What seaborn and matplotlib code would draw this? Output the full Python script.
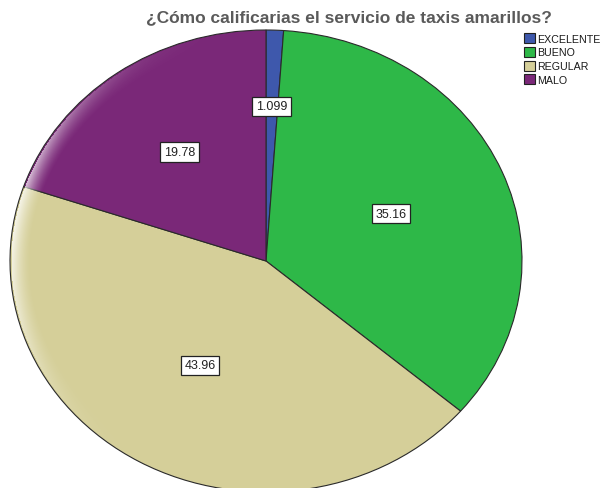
import numpy as np
import matplotlib
matplotlib.use("Agg")
import matplotlib.pyplot as plt
import seaborn as sns

categories = ["EXCELENTE", "BUENO", "REGULAR", "MALO"]
percentages = [1.099, 35.16, 43.96, 19.78]
value_labels = ["1.099", "35.16", "43.96", "19.78"]
title = "¿Cómo calificarias el servicio de taxis amarillos?"

sns.set_theme(style="white")
plt.rcParams["font.family"] = ["Liberation Sans", "DejaVu Sans"]
colors = sns.color_palette(["#3E58AC", "#2EB848", "#D5CF99", "#7A2878"])

W, H = 603, 489
fig = plt.figure(figsize=(W / 100, H / 100), dpi=100)
ax = fig.add_axes([0, 0, 1, 1])

# ellipse geometry (pixels)
cx, cy, rx, ry = 266, 262, 256, 231

wedges, _ = ax.pie(percentages, colors=colors, startangle=90, counterclock=False,
                   radius=1.0, wedgeprops=dict(edgecolor="#2a2a2a", linewidth=0.8))
ax.set_aspect("auto")
x0, x1 = -cx / rx, (W - cx) / rx
y0, y1 = (cy - H) / ry, cy / ry
ax.set_xlim(x0, x1)
ax.set_ylim(y0, y1)
ax.axis("off")

# soft light on the left rim
gx, gy = np.meshgrid(np.linspace(x0, x1, W), np.linspace(y1, y0, H))
rho = np.hypot(gx, gy)
phi = np.arctan2(gy, gx)
fade = np.clip(1 - (1 - rho) * rx / 20, 0, 1) ** 1.5
weight = np.clip(-np.cos(phi + 0.15), 0, 1) ** 5
alpha = 0.85 * fade * weight
alpha[rho > 0.996] = 0
rgba = np.ones((H, W, 4))
rgba[..., 3] = alpha
ax.imshow(rgba, extent=(x0, x1, y0, y1), aspect="auto", zorder=3, interpolation="bilinear")

label_r = [0.67, 0.53, 0.52, 0.58]
for w, txt, r in zip(wedges, value_labels, label_r):
    mid = np.deg2rad((w.theta1 + w.theta2) / 2)
    ax.text(r * np.cos(mid), r * np.sin(mid), txt, ha="center", va="center",
            fontsize=9, color="#222222", zorder=5,
            bbox=dict(boxstyle="square,pad=0.3", fc="white", ec="#222222", lw=0.9))

fig.text(349 / W, 1 - 18 / H, title, ha="center", va="center", fontsize=12.5,
         fontweight="bold", color="#5a5a5a")

leg = fig.legend(wedges, categories, loc="upper left", bbox_to_anchor=(524 / W, 1 - 34 / H),
                 frameon=False, fontsize=7.7, handlelength=1.05, handleheight=1.05,
                 labelspacing=0.3, handletextpad=0.15, borderaxespad=0, borderpad=0)
for t in leg.get_texts():
    t.set_color("#1a1a1a")
for p in leg.get_patches():
    p.set_edgecolor("#222222")
    p.set_linewidth(0.8)

fig.savefig("out.png", dpi=100)
